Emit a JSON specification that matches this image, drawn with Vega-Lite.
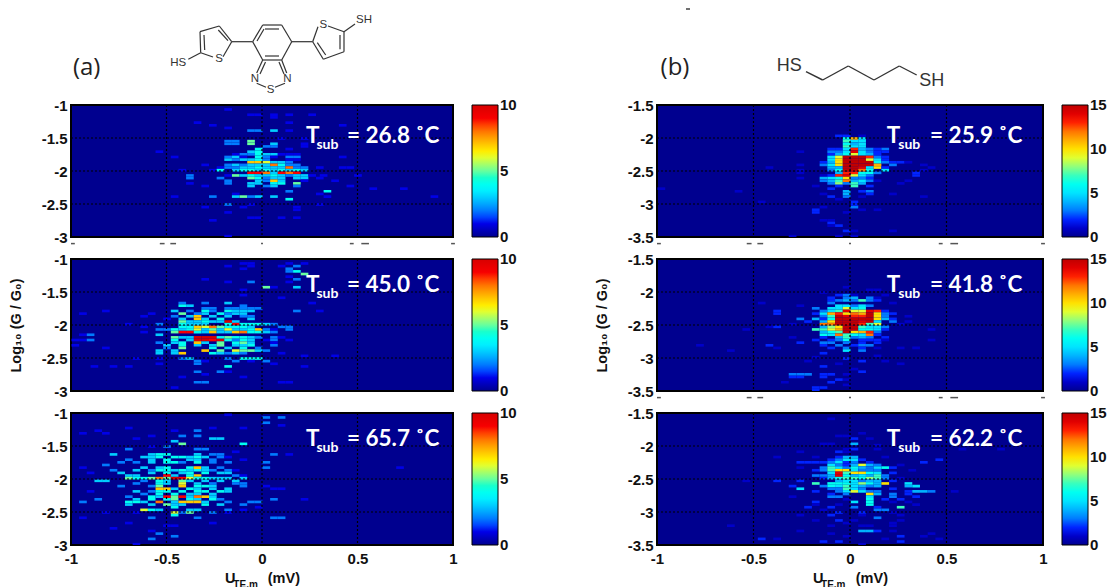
{"$schema":"https://vega.github.io/schema/vega-lite/v6.json","background":"white","padding":{"left":7,"top":0,"right":0,"bottom":0},"bounds":"flush","spacing":586,"resolve":{"scale":{"color":"independent"}},
"config":{"view":{"stroke":null},"axis":{"grid":false,"domain":false,"ticks":false,"labelFont":"Liberation Sans","labelFontWeight":"bold","labelFontSize":15,"labelColor":"#111","titleFont":"Liberation Sans","titleFontWeight":"bold","titleFontSize":14.5,"titleColor":"#111","labelPadding":4,"labelFlush":false,"labelOverlap":false,"labelBound":false},
"legend":{"offset":19,"gradientLength":132,"gradientThickness":26,"gradientStrokeColor":"#000","gradientStrokeWidth":1,"labelFont":"Liberation Sans","labelFontWeight":"bold","labelFontSize":15,"labelColor":"#111","labelOffset":4,"labelOverlap":false,"title":null,"tickCount":3}},
"datasets":{
"gx":[{"v":-0.5},{"v":0},{"v":0.5}],
"gya":[{"v":-2.5},{"v":-2},{"v":-1.5}],
"gyb":[{"v":-3},{"v":-2.5},{"v":-2}],
"fa":[{"x":-1,"x2":-0.98,"y":-3.1},{"x":-0.535,"x2":-0.51,"y":-3.1},{"x":-0.48,"x2":-0.45,"y":-3.1},{"x":-0.005,"x2":0.005,"y":-3.1},{"x":0.46,"x2":0.48,"y":-3.1},{"x":0.52,"x2":0.56,"y":-3.1},{"x":0.99,"x2":1.01,"y":-3.1}],
"fb":[{"x":-1,"x2":-0.98,"y":-3.6},{"x":-0.535,"x2":-0.51,"y":-3.6},{"x":-0.48,"x2":-0.45,"y":-3.6},{"x":-0.005,"x2":0.005,"y":-3.6},{"x":0.46,"x2":0.48,"y":-3.6},{"x":0.52,"x2":0.56,"y":-3.6},{"x":0.99,"x2":1.01,"y":-3.6}],
"a1":[{"x":-0.2,"y":-1.08,"v":1},{"x":-0.08,"y":-1.16,"v":1},{"x":-0.04,"y":-1.16,"v":1},{"x":0.04,"y":-1.16,"v":1},{"x":0.04,"y":-1.2,"v":1},{"x":0.12,"y":-1.16,"v":1},{"x":0.24,"y":-1.16,"v":1},{"x":0.12,"y":-1.28,"v":1},{"x":-0.36,"y":-1.28,"v":1},{"x":-0.28,"y":-1.32,"v":1},{"x":-0.2,"y":-1.36,"v":1},{"x":0.4,"y":-1.32,"v":1},{"x":-0.08,"y":-1.4,"v":2},{"x":-0.04,"y":-1.4,"v":2},{"x":0.04,"y":-1.4,"v":3},{"x":0.12,"y":-1.4,"v":1},{"x":0.2,"y":-1.52,"v":1},{"x":0.08,"y":-1.52,"v":1},{"x":-0.2,"y":-1.56,"v":2},{"x":-0.16,"y":-1.56,"v":2},{"x":-0.2,"y":-1.6,"v":2},{"x":-0.16,"y":-1.6,"v":2},{"x":-0.08,"y":-1.56,"v":5},{"x":-0.08,"y":-1.6,"v":5},{"x":0.04,"y":-1.6,"v":3},{"x":0.2,"y":-1.6,"v":1},{"x":0.2,"y":-1.64,"v":1},{"x":0,"y":-1.64,"v":2},{"x":0.04,"y":-1.64,"v":2},{"x":-0.04,"y":-1.68,"v":4},{"x":0.12,"y":-1.68,"v":1},{"x":-0.56,"y":-1.72,"v":1},{"x":-0.08,"y":-1.72,"v":3},{"x":-0.04,"y":-1.72,"v":4},{"x":-0.16,"y":-1.76,"v":1},{"x":-0.12,"y":-1.76,"v":2},{"x":-0.08,"y":-1.76,"v":2},{"x":-0.04,"y":-1.76,"v":4},{"x":0,"y":-1.76,"v":3},{"x":0.04,"y":-1.76,"v":3},{"x":0.08,"y":-1.76,"v":1},{"x":0.12,"y":-1.76,"v":1},{"x":0.16,"y":-1.76,"v":1},{"x":-0.48,"y":-1.8,"v":1},{"x":-0.2,"y":-1.8,"v":2},{"x":-0.16,"y":-1.8,"v":3},{"x":-0.12,"y":-1.8,"v":1},{"x":-0.04,"y":-1.8,"v":4},{"x":0,"y":-1.8,"v":2},{"x":0.04,"y":-1.8,"v":1},{"x":0.12,"y":-1.8,"v":2},{"x":0.16,"y":-1.8,"v":2},{"x":0.4,"y":-1.8,"v":1},{"x":-0.2,"y":-1.84,"v":3},{"x":-0.16,"y":-1.84,"v":2},{"x":-0.12,"y":-1.84,"v":3},{"x":-0.08,"y":-1.84,"v":3},{"x":-0.04,"y":-1.84,"v":4},{"x":0,"y":-1.84,"v":2},{"x":0.12,"y":-1.84,"v":1},{"x":0.16,"y":-1.84,"v":1},{"x":-0.08,"y":-1.88,"v":7},{"x":-0.04,"y":-1.88,"v":7},{"x":0,"y":-1.88,"v":6},{"x":0.04,"y":-1.88,"v":3},{"x":0.08,"y":-1.88,"v":3},{"x":0.12,"y":-1.88,"v":2},{"x":-0.32,"y":-1.92,"v":1},{"x":-0.2,"y":-1.92,"v":2},{"x":-0.16,"y":-1.92,"v":3},{"x":-0.12,"y":-1.92,"v":2},{"x":-0.08,"y":-1.92,"v":3},{"x":-0.04,"y":-1.92,"v":3},{"x":0,"y":-1.92,"v":3},{"x":0.04,"y":-1.92,"v":8},{"x":0.08,"y":-1.92,"v":4},{"x":0.12,"y":-1.92,"v":2},{"x":0.16,"y":-1.92,"v":2},{"x":-0.24,"y":-1.96,"v":1},{"x":-0.2,"y":-1.96,"v":2},{"x":-0.16,"y":-1.96,"v":2},{"x":-0.12,"y":-1.96,"v":3},{"x":-0.08,"y":-1.96,"v":3},{"x":-0.04,"y":-1.96,"v":4},{"x":0,"y":-1.96,"v":3},{"x":0.04,"y":-1.96,"v":3},{"x":0.08,"y":-1.96,"v":3},{"x":0.12,"y":-1.96,"v":8},{"x":0.16,"y":-1.96,"v":2},{"x":0.2,"y":-1.96,"v":2},{"x":0.28,"y":-1.96,"v":1},{"x":0.4,"y":-1.96,"v":1},{"x":0.44,"y":-1.96,"v":1},{"x":-0.44,"y":-2,"v":1},{"x":-0.28,"y":-2,"v":1},{"x":-0.24,"y":-2,"v":4},{"x":-0.16,"y":-2,"v":3},{"x":-0.12,"y":-2,"v":4},{"x":-0.08,"y":-2,"v":4},{"x":-0.04,"y":-2,"v":3},{"x":0,"y":-2,"v":4},{"x":0.04,"y":-2,"v":3},{"x":0.08,"y":-2,"v":4},{"x":0.12,"y":-2,"v":3},{"x":0.16,"y":-2,"v":4},{"x":0.2,"y":-2,"v":3},{"x":-0.08,"y":-2.04,"v":9},{"x":-0.04,"y":-2.04,"v":9},{"x":0,"y":-2.04,"v":8},{"x":0.04,"y":-2.04,"v":3},{"x":0.08,"y":-2.04,"v":9},{"x":0.12,"y":-2.04,"v":8},{"x":0.16,"y":-2.04,"v":9},{"x":-0.4,"y":-2.08,"v":2},{"x":-0.2,"y":-2.08,"v":1},{"x":-0.16,"y":-2.08,"v":5},{"x":-0.12,"y":-2.08,"v":3},{"x":-0.08,"y":-2.08,"v":4},{"x":-0.04,"y":-2.08,"v":3},{"x":0,"y":-2.08,"v":3},{"x":0.04,"y":-2.08,"v":4},{"x":0.08,"y":-2.08,"v":3},{"x":0.12,"y":-2.08,"v":2},{"x":0.16,"y":-2.08,"v":3},{"x":0.2,"y":-2.08,"v":3},{"x":0.24,"y":-2.08,"v":1},{"x":0.3,"y":-2.08,"v":1},{"x":0.48,"y":-2.08,"v":1},{"x":-0.4,"y":-2.12,"v":2},{"x":-0.24,"y":-2.12,"v":2},{"x":-0.08,"y":-2.12,"v":5},{"x":-0.04,"y":-2.12,"v":4},{"x":0,"y":-2.12,"v":2},{"x":0.04,"y":-2.12,"v":3},{"x":0.08,"y":-2.12,"v":3},{"x":0.16,"y":-2.12,"v":3},{"x":0.2,"y":-2.12,"v":3},{"x":0.28,"y":-2.12,"v":1},{"x":-0.2,"y":-2.16,"v":2},{"x":-0.04,"y":-2.16,"v":3},{"x":0,"y":-2.16,"v":2},{"x":0.04,"y":-2.16,"v":7},{"x":0.08,"y":-2.16,"v":3},{"x":0.2,"y":-2.16,"v":1},{"x":0.36,"y":-2.16,"v":1},{"x":-0.4,"y":-2.2,"v":1},{"x":-0.2,"y":-2.2,"v":2},{"x":-0.08,"y":-2.2,"v":3},{"x":-0.04,"y":-2.2,"v":3},{"x":0.04,"y":-2.2,"v":4},{"x":0.08,"y":-2.2,"v":4},{"x":0.16,"y":-2.2,"v":5},{"x":-0.32,"y":-2.24,"v":1},{"x":-0.08,"y":-2.24,"v":3},{"x":0,"y":-2.24,"v":2},{"x":0.04,"y":-2.24,"v":3},{"x":0.16,"y":-2.24,"v":2},{"x":0.44,"y":-2.24,"v":1},{"x":0.56,"y":-2.28,"v":1},{"x":0.72,"y":-2.28,"v":1},{"x":0.32,"y":-2.32,"v":4},{"x":-0.16,"y":-2.36,"v":1},{"x":0.12,"y":-2.32,"v":2},{"x":0.28,"y":-2.36,"v":1},{"x":-0.48,"y":-2.4,"v":1},{"x":-0.28,"y":-2.4,"v":2},{"x":-0.16,"y":-2.4,"v":3},{"x":-0.12,"y":-2.4,"v":5},{"x":-0.08,"y":-2.4,"v":2},{"x":-0.04,"y":-2.4,"v":3},{"x":0.04,"y":-2.4,"v":3},{"x":0.12,"y":-2.44,"v":4},{"x":0.32,"y":-2.4,"v":1},{"x":0.88,"y":-2.4,"v":1},{"x":-0.2,"y":-2.52,"v":2},{"x":-0.08,"y":-2.52,"v":1},{"x":0.28,"y":-2.52,"v":1},{"x":-0.32,"y":-2.56,"v":1},{"x":-0.12,"y":-2.56,"v":1},{"x":0.16,"y":-2.56,"v":1},{"x":-0.2,"y":-2.64,"v":1},{"x":0.16,"y":-2.6,"v":1},{"x":-0.08,"y":-2.72,"v":1},{"x":-0.04,"y":-2.72,"v":1},{"x":0.08,"y":-2.72,"v":1},{"x":0.16,"y":-2.72,"v":1},{"x":-0.28,"y":-2.76,"v":1},{"x":-0.2,"y":-3,"v":1}],
"a2":[{"x":-0.12,"y":-1.08,"v":1},{"x":-0.08,"y":-1.08,"v":1},{"x":0.12,"y":-1.08,"v":1},{"x":0.2,"y":-1.08,"v":1},{"x":-0.2,"y":-1.12,"v":1},{"x":-0.08,"y":-1.12,"v":1},{"x":0.08,"y":-1.12,"v":1},{"x":0.16,"y":-1.12,"v":2},{"x":-0.12,"y":-1.16,"v":1},{"x":0.12,"y":-1.16,"v":2},{"x":0.16,"y":-1.2,"v":4},{"x":0.12,"y":-1.2,"v":2},{"x":0.2,"y":-1.24,"v":5},{"x":0.12,"y":-1.28,"v":1},{"x":0.16,"y":-1.32,"v":2},{"x":-0.32,"y":-1.32,"v":1},{"x":-0.2,"y":-1.36,"v":1},{"x":-0.08,"y":-1.36,"v":2},{"x":0.12,"y":-1.36,"v":1},{"x":0,"y":-1.44,"v":5},{"x":0.04,"y":-1.44,"v":1},{"x":0.16,"y":-1.44,"v":3},{"x":-0.12,"y":-1.48,"v":1},{"x":-0.12,"y":-1.56,"v":1},{"x":0.08,"y":-1.6,"v":1},{"x":0.24,"y":-1.68,"v":1},{"x":-0.44,"y":-1.68,"v":2},{"x":-0.32,"y":-1.68,"v":2},{"x":-0.2,"y":-1.68,"v":3},{"x":-0.12,"y":-1.72,"v":2},{"x":-0.44,"y":-1.72,"v":4},{"x":-0.4,"y":-1.72,"v":3},{"x":-0.32,"y":-1.76,"v":2},{"x":-0.28,"y":-1.76,"v":2},{"x":-0.2,"y":-1.76,"v":2},{"x":-0.16,"y":-1.76,"v":2},{"x":-0.12,"y":-1.76,"v":2},{"x":-0.08,"y":-1.76,"v":2},{"x":-0.04,"y":-1.76,"v":2},{"x":-0.84,"y":-1.8,"v":1},{"x":-0.48,"y":-1.8,"v":3},{"x":-0.4,"y":-1.8,"v":2},{"x":-0.32,"y":-1.8,"v":4},{"x":-0.28,"y":-1.8,"v":2},{"x":-0.2,"y":-1.8,"v":4},{"x":-0.16,"y":-1.8,"v":3},{"x":-0.12,"y":-1.8,"v":3},{"x":-0.08,"y":-1.8,"v":3},{"x":0.16,"y":-1.8,"v":2},{"x":0.28,"y":-1.8,"v":1},{"x":-0.96,"y":-1.84,"v":1},{"x":-0.6,"y":-1.84,"v":1},{"x":-0.44,"y":-1.84,"v":5},{"x":-0.36,"y":-1.84,"v":2},{"x":-0.32,"y":-1.84,"v":3},{"x":-0.24,"y":-1.84,"v":4},{"x":-0.2,"y":-1.84,"v":2},{"x":-0.16,"y":-1.84,"v":3},{"x":-0.12,"y":-1.84,"v":3},{"x":-0.64,"y":-1.88,"v":1},{"x":-0.48,"y":-1.88,"v":2},{"x":-0.4,"y":-1.88,"v":3},{"x":-0.36,"y":-1.88,"v":7},{"x":-0.28,"y":-1.88,"v":3},{"x":-0.2,"y":-1.88,"v":3},{"x":-0.12,"y":-1.88,"v":2},{"x":-0.08,"y":-1.88,"v":2},{"x":-0.52,"y":-1.92,"v":1},{"x":-0.44,"y":-1.92,"v":3},{"x":-0.36,"y":-1.92,"v":7},{"x":-0.32,"y":-1.92,"v":3},{"x":-0.24,"y":-1.92,"v":4},{"x":-0.2,"y":-1.96,"v":10},{"x":-0.24,"y":-1.96,"v":3},{"x":-0.16,"y":-1.96,"v":3},{"x":-0.08,"y":-1.92,"v":3},{"x":-0.44,"y":-1.96,"v":5},{"x":-0.4,"y":-1.96,"v":3},{"x":-0.36,"y":-1.96,"v":3},{"x":-0.32,"y":-1.96,"v":4},{"x":-0.28,"y":-1.96,"v":3},{"x":-0.16,"y":-2,"v":9},{"x":-0.2,"y":-2,"v":4},{"x":-0.12,"y":-2,"v":4},{"x":-0.08,"y":-2,"v":4},{"x":-0.04,"y":-2,"v":4},{"x":0,"y":-2,"v":3},{"x":0.04,"y":-2,"v":2},{"x":-0.44,"y":-2,"v":4},{"x":-0.4,"y":-2,"v":3},{"x":-0.36,"y":-2,"v":3},{"x":-0.32,"y":-2,"v":3},{"x":-0.72,"y":-2,"v":1},{"x":-0.56,"y":-2,"v":2},{"x":-0.28,"y":-2.04,"v":8},{"x":-0.24,"y":-2.04,"v":5},{"x":-0.2,"y":-2.04,"v":4},{"x":-0.16,"y":-2.04,"v":4},{"x":-0.12,"y":-2.04,"v":4},{"x":-0.08,"y":-2.04,"v":3},{"x":-0.36,"y":-2.04,"v":7},{"x":-0.4,"y":-2.04,"v":4},{"x":-0.44,"y":-2.04,"v":4},{"x":-0.32,"y":-2.04,"v":6},{"x":-0.64,"y":-2.04,"v":1},{"x":0.08,"y":-2.04,"v":2},{"x":0.12,"y":-2.04,"v":2},{"x":-0.56,"y":-2.08,"v":2},{"x":-0.52,"y":-2.08,"v":2},{"x":-0.48,"y":-2.08,"v":4},{"x":-0.44,"y":-2.08,"v":3},{"x":-0.4,"y":-2.08,"v":4},{"x":-0.36,"y":-2.08,"v":6},{"x":-0.32,"y":-2.08,"v":3},{"x":-0.28,"y":-2.08,"v":5},{"x":-0.24,"y":-2.08,"v":3},{"x":-0.2,"y":-2.08,"v":6},{"x":-0.16,"y":-2.08,"v":3},{"x":-0.12,"y":-2.08,"v":3},{"x":-0.04,"y":-2.08,"v":7},{"x":-0.08,"y":-2.08,"v":4},{"x":0,"y":-2.08,"v":2},{"x":0.04,"y":-2.08,"v":1},{"x":0.12,"y":-2.08,"v":2},{"x":-0.44,"y":-2.12,"v":9},{"x":-0.4,"y":-2.12,"v":9},{"x":-0.36,"y":-2.12,"v":4},{"x":-0.32,"y":-2.12,"v":3},{"x":-0.28,"y":-2.12,"v":7},{"x":-0.24,"y":-2.12,"v":3},{"x":-0.2,"y":-2.12,"v":3},{"x":-0.16,"y":-2.12,"v":7},{"x":-0.12,"y":-2.12,"v":8},{"x":-0.08,"y":-2.12,"v":4},{"x":-0.04,"y":-2.12,"v":4},{"x":-0.64,"y":-2.12,"v":1},{"x":-0.48,"y":-2.12,"v":5},{"x":0,"y":-2.12,"v":3},{"x":0.04,"y":-2.12,"v":2},{"x":-0.96,"y":-2.16,"v":1},{"x":-0.92,"y":-2.16,"v":2},{"x":-0.56,"y":-2.16,"v":3},{"x":-0.36,"y":-2.2,"v":10},{"x":-0.32,"y":-2.2,"v":10},{"x":-0.28,"y":-2.2,"v":10},{"x":-0.24,"y":-2.2,"v":4},{"x":-0.2,"y":-2.2,"v":5},{"x":-0.16,"y":-2.2,"v":4},{"x":-0.12,"y":-2.2,"v":4},{"x":-0.44,"y":-2.2,"v":3},{"x":-0.48,"y":-2.2,"v":5},{"x":-0.4,"y":-2.2,"v":3},{"x":-0.08,"y":-2.2,"v":3},{"x":-0.04,"y":-2.2,"v":2},{"x":0.04,"y":-2.2,"v":2},{"x":0.08,"y":-2.2,"v":1},{"x":-1,"y":-2.24,"v":1},{"x":-0.96,"y":-2.24,"v":1},{"x":-0.92,"y":-2.24,"v":2},{"x":-0.36,"y":-2.24,"v":10},{"x":-0.32,"y":-2.24,"v":10},{"x":-0.28,"y":-2.24,"v":9},{"x":-0.24,"y":-2.24,"v":10},{"x":-0.4,"y":-2.24,"v":3},{"x":-0.48,"y":-2.24,"v":4},{"x":-0.2,"y":-2.24,"v":4},{"x":-0.16,"y":-2.24,"v":2},{"x":-0.12,"y":-2.24,"v":4},{"x":-0.08,"y":-2.24,"v":3},{"x":0,"y":-2.24,"v":1},{"x":0.04,"y":-2.24,"v":2},{"x":0.12,"y":-2.24,"v":1},{"x":-0.36,"y":-2.28,"v":7},{"x":-0.32,"y":-2.28,"v":3},{"x":-0.24,"y":-2.28,"v":5},{"x":-0.16,"y":-2.28,"v":4},{"x":-0.12,"y":-2.28,"v":5},{"x":-0.08,"y":-2.28,"v":3},{"x":-0.48,"y":-2.28,"v":3},{"x":-0.44,"y":-2.28,"v":4},{"x":-0.56,"y":-2.28,"v":2},{"x":0.04,"y":-2.28,"v":1},{"x":-1,"y":-2.32,"v":1},{"x":-0.52,"y":-2.32,"v":3},{"x":-0.44,"y":-2.32,"v":4},{"x":-0.36,"y":-2.32,"v":3},{"x":-0.28,"y":-2.32,"v":3},{"x":-0.24,"y":-2.32,"v":5},{"x":-0.16,"y":-2.32,"v":3},{"x":-0.12,"y":-2.32,"v":3},{"x":-0.08,"y":-2.32,"v":4},{"x":0.04,"y":-2.32,"v":2},{"x":-0.84,"y":-2.36,"v":1},{"x":-0.44,"y":-2.36,"v":5},{"x":-0.28,"y":-2.36,"v":4},{"x":-0.2,"y":-2.36,"v":3},{"x":-0.12,"y":-2.36,"v":4},{"x":-0.04,"y":-2.36,"v":2},{"x":-0.52,"y":-2.36,"v":2},{"x":-0.56,"y":-2.4,"v":3},{"x":-0.48,"y":-2.4,"v":3},{"x":-0.32,"y":-2.4,"v":7},{"x":-0.24,"y":-2.4,"v":5},{"x":-0.16,"y":-2.4,"v":6},{"x":-0.12,"y":-2.4,"v":5},{"x":-0.08,"y":-2.4,"v":5},{"x":-0.04,"y":-2.4,"v":3},{"x":0,"y":-2.4,"v":2},{"x":-0.44,"y":-2.44,"v":7},{"x":-0.48,"y":-2.44,"v":3},{"x":-0.56,"y":-2.44,"v":3},{"x":-0.28,"y":-2.44,"v":4},{"x":-0.24,"y":-2.44,"v":3},{"x":-0.2,"y":-2.44,"v":2},{"x":-0.16,"y":-2.44,"v":3},{"x":-0.12,"y":-2.44,"v":2},{"x":0.08,"y":-2.44,"v":1},{"x":0.2,"y":-2.48,"v":1},{"x":0.36,"y":-2.48,"v":1},{"x":-0.44,"y":-2.52,"v":2},{"x":-0.4,"y":-2.52,"v":3},{"x":-0.2,"y":-2.52,"v":2},{"x":-0.12,"y":-2.52,"v":4},{"x":-0.08,"y":-2.52,"v":4},{"x":-0.04,"y":-2.52,"v":4},{"x":-0.56,"y":-2.52,"v":1},{"x":-0.68,"y":-2.52,"v":1},{"x":-0.36,"y":-2.56,"v":2},{"x":-0.32,"y":-2.56,"v":1},{"x":-0.16,"y":-2.56,"v":2},{"x":-0.08,"y":-2.56,"v":1},{"x":0,"y":-2.56,"v":2},{"x":-0.56,"y":-2.6,"v":1},{"x":-0.36,"y":-2.6,"v":2},{"x":0.04,"y":-2.6,"v":1},{"x":-0.9,"y":-2.64,"v":1},{"x":-0.8,"y":-2.64,"v":1},{"x":-0.72,"y":-2.64,"v":1},{"x":-0.2,"y":-2.64,"v":4},{"x":0.2,"y":-2.64,"v":1},{"x":-0.24,"y":-2.72,"v":2},{"x":-0.2,"y":-2.72,"v":1},{"x":-0.36,"y":-2.72,"v":2},{"x":-0.44,"y":-2.8,"v":1},{"x":-0.32,"y":-2.76,"v":1},{"x":-0.12,"y":-2.8,"v":1},{"x":-0.36,"y":-2.88,"v":2},{"x":-0.32,"y":-2.88,"v":2},{"x":0.08,"y":-2.88,"v":1},{"x":0.12,"y":-2.88,"v":1},{"x":-0.48,"y":-2.96,"v":1}],
"a3":[{"x":-0.2,"y":-1.04,"v":1},{"x":0.0,"y":-1.08,"v":2},{"x":0.08,"y":-1.08,"v":2},{"x":0,"y":-1.16,"v":2},{"x":0.08,"y":-1.2,"v":1},{"x":-0.88,"y":-1.28,"v":1},{"x":-0.72,"y":-1.24,"v":1},{"x":-0.36,"y":-1.28,"v":2},{"x":-0.28,"y":-1.24,"v":1},{"x":-0.12,"y":-1.24,"v":1},{"x":-0.96,"y":-1.32,"v":1},{"x":-0.84,"y":-1.32,"v":1},{"x":-0.48,"y":-1.28,"v":1},{"x":-0.68,"y":-1.4,"v":1},{"x":-0.6,"y":-1.36,"v":1},{"x":-0.44,"y":-1.36,"v":2},{"x":-0.36,"y":-1.36,"v":2},{"x":-0.28,"y":-1.4,"v":3},{"x":-0.24,"y":-1.4,"v":3},{"x":-0.48,"y":-1.44,"v":3},{"x":-0.44,"y":-1.48,"v":5},{"x":-0.12,"y":-1.48,"v":4},{"x":-0.6,"y":-1.52,"v":1},{"x":-0.52,"y":-1.52,"v":2},{"x":-0.72,"y":-1.56,"v":2},{"x":-0.36,"y":-1.56,"v":2},{"x":-0.32,"y":-1.56,"v":2},{"x":-0.16,"y":-1.6,"v":1},{"x":-0.8,"y":-1.64,"v":3},{"x":-0.6,"y":-1.64,"v":3},{"x":-0.56,"y":-1.64,"v":4},{"x":-0.52,"y":-1.64,"v":4},{"x":-0.36,"y":-1.64,"v":3},{"x":-0.28,"y":-1.64,"v":2},{"x":-0.24,"y":-1.64,"v":2},{"x":0.04,"y":-1.64,"v":2},{"x":0.12,"y":-1.64,"v":1},{"x":-0.64,"y":-1.68,"v":3},{"x":-0.6,"y":-1.68,"v":3},{"x":-0.56,"y":-1.68,"v":4},{"x":-0.48,"y":-1.68,"v":4},{"x":-0.44,"y":-1.68,"v":4},{"x":-0.4,"y":-1.68,"v":3},{"x":-0.36,"y":-1.68,"v":4},{"x":-0.32,"y":-1.68,"v":3},{"x":-0.24,"y":-1.68,"v":2},{"x":-0.2,"y":-1.68,"v":1},{"x":-0.72,"y":-1.72,"v":2},{"x":-0.6,"y":-1.72,"v":3},{"x":-0.52,"y":-1.72,"v":4},{"x":-0.4,"y":-1.72,"v":3},{"x":-0.36,"y":-1.72,"v":3},{"x":-0.28,"y":-1.72,"v":2},{"x":-0.12,"y":-1.72,"v":1},{"x":-0.76,"y":-1.76,"v":2},{"x":-0.68,"y":-1.76,"v":2},{"x":-0.6,"y":-1.76,"v":3},{"x":-0.52,"y":-1.76,"v":4},{"x":-0.48,"y":-1.76,"v":4},{"x":-0.44,"y":-1.76,"v":2},{"x":-0.36,"y":-1.76,"v":4},{"x":-0.28,"y":-1.76,"v":2},{"x":-0.2,"y":-1.76,"v":2},{"x":0,"y":-1.76,"v":2},{"x":-0.96,"y":-1.84,"v":1},{"x":-0.84,"y":-1.8,"v":2},{"x":-0.64,"y":-1.84,"v":3},{"x":-0.56,"y":-1.84,"v":3},{"x":-0.52,"y":-1.84,"v":4},{"x":-0.4,"y":-1.84,"v":4},{"x":-0.36,"y":-1.84,"v":7},{"x":-0.32,"y":-1.84,"v":3},{"x":-0.24,"y":-1.84,"v":2},{"x":0,"y":-1.84,"v":2},{"x":0.7,"y":-1.84,"v":1},{"x":-0.8,"y":-1.88,"v":2},{"x":-0.68,"y":-1.88,"v":3},{"x":-0.6,"y":-1.88,"v":2},{"x":-0.56,"y":-1.88,"v":4},{"x":-0.52,"y":-1.88,"v":4},{"x":-0.48,"y":-1.88,"v":3},{"x":-0.44,"y":-1.88,"v":4},{"x":-0.4,"y":-1.88,"v":3},{"x":-0.36,"y":-1.88,"v":4},{"x":-0.32,"y":-1.88,"v":3},{"x":-0.28,"y":-1.88,"v":2},{"x":-0.2,"y":-1.88,"v":2},{"x":-0.16,"y":-1.88,"v":1},{"x":-0.92,"y":-1.92,"v":1},{"x":-0.76,"y":-1.92,"v":3},{"x":-0.6,"y":-1.92,"v":3},{"x":-0.52,"y":-1.92,"v":4},{"x":-0.44,"y":-1.92,"v":3},{"x":-0.4,"y":-1.92,"v":4},{"x":-0.32,"y":-1.92,"v":4},{"x":-0.24,"y":-1.92,"v":3},{"x":-0.2,"y":-1.92,"v":3},{"x":-0.52,"y":-1.96,"v":9},{"x":-0.48,"y":-1.96,"v":3},{"x":-0.36,"y":-1.96,"v":7},{"x":-0.4,"y":-1.96,"v":4},{"x":-0.72,"y":-1.96,"v":3},{"x":-0.68,"y":-1.96,"v":3},{"x":-0.16,"y":-1.96,"v":2},{"x":-0.12,"y":-1.96,"v":1},{"x":-0.72,"y":-2,"v":5},{"x":-0.68,"y":-2,"v":4},{"x":-0.64,"y":-2,"v":4},{"x":-0.6,"y":-2,"v":5},{"x":-0.56,"y":-2,"v":8},{"x":-0.52,"y":-2,"v":5},{"x":-0.48,"y":-2,"v":10},{"x":-0.44,"y":-2,"v":9},{"x":-0.4,"y":-2,"v":6},{"x":-0.36,"y":-2,"v":4},{"x":-0.32,"y":-2,"v":4},{"x":-0.28,"y":-2,"v":3},{"x":-0.24,"y":-2,"v":3},{"x":-0.2,"y":-2,"v":3},{"x":-0.12,"y":-2,"v":3},{"x":-0.88,"y":-2.04,"v":3},{"x":-0.84,"y":-2.04,"v":3},{"x":-0.64,"y":-2.04,"v":2},{"x":-0.56,"y":-2.04,"v":4},{"x":-0.52,"y":-2.04,"v":3},{"x":-0.44,"y":-2.04,"v":5},{"x":-0.4,"y":-2.04,"v":3},{"x":-0.32,"y":-2.04,"v":3},{"x":-0.24,"y":-2.04,"v":3},{"x":-0.16,"y":-2.04,"v":3},{"x":-0.68,"y":-2.08,"v":2},{"x":-0.56,"y":-2.08,"v":4},{"x":-0.52,"y":-2.08,"v":3},{"x":-0.44,"y":-2.08,"v":6},{"x":-0.36,"y":-2.08,"v":3},{"x":-0.28,"y":-2.08,"v":2},{"x":-0.16,"y":-2.08,"v":2},{"x":-0.12,"y":-2.08,"v":2},{"x":-0.76,"y":-2.12,"v":2},{"x":-0.6,"y":-2.12,"v":2},{"x":-0.56,"y":-2.12,"v":5},{"x":-0.44,"y":-2.12,"v":7},{"x":-0.36,"y":-2.12,"v":4},{"x":-0.32,"y":-2.12,"v":4},{"x":-0.28,"y":-2.12,"v":3},{"x":-0.12,"y":-2.12,"v":2},{"x":0,"y":-2.12,"v":1},{"x":-0.56,"y":-2.16,"v":7},{"x":-0.52,"y":-2.16,"v":7},{"x":-0.48,"y":-2.16,"v":3},{"x":-0.4,"y":-2.16,"v":4},{"x":-0.36,"y":-2.16,"v":3},{"x":-0.28,"y":-2.16,"v":3},{"x":-0.2,"y":-2.16,"v":3},{"x":0.04,"y":-2.16,"v":1},{"x":0.08,"y":-2.16,"v":1},{"x":-0.92,"y":-2.2,"v":1},{"x":-0.68,"y":-2.2,"v":3},{"x":-0.6,"y":-2.2,"v":2},{"x":-0.56,"y":-2.2,"v":4},{"x":-0.52,"y":-2.2,"v":4},{"x":-0.44,"y":-2.2,"v":4},{"x":-0.36,"y":-2.2,"v":4},{"x":-0.32,"y":-2.2,"v":4},{"x":-0.24,"y":-2.2,"v":4},{"x":-0.2,"y":-2.2,"v":3},{"x":-0.64,"y":-2.24,"v":2},{"x":-0.56,"y":-2.24,"v":4},{"x":-0.48,"y":-2.24,"v":4},{"x":-0.4,"y":-2.24,"v":3},{"x":-0.36,"y":-2.24,"v":3},{"x":-0.28,"y":-2.24,"v":3},{"x":-0.52,"y":-2.28,"v":9},{"x":-0.48,"y":-2.28,"v":5},{"x":-0.44,"y":-2.28,"v":9},{"x":-0.36,"y":-2.28,"v":8},{"x":-0.32,"y":-2.28,"v":7},{"x":-0.72,"y":-2.28,"v":2},{"x":-0.6,"y":-2.28,"v":4},{"x":-0.56,"y":-2.28,"v":3},{"x":-0.4,"y":-2.28,"v":3},{"x":-0.28,"y":-2.28,"v":3},{"x":-0.88,"y":-2.32,"v":2},{"x":-0.68,"y":-2.32,"v":3},{"x":-0.6,"y":-2.32,"v":4},{"x":-0.52,"y":-2.32,"v":4},{"x":-0.48,"y":-2.32,"v":5},{"x":-0.4,"y":-2.32,"v":4},{"x":-0.36,"y":-2.32,"v":3},{"x":-0.28,"y":-2.32,"v":4},{"x":-0.24,"y":-2.32,"v":2},{"x":0.04,"y":-2.32,"v":2},{"x":0.2,"y":-2.32,"v":1},{"x":-0.56,"y":-2.36,"v":8},{"x":-0.48,"y":-2.36,"v":3},{"x":-0.44,"y":-2.36,"v":7},{"x":-0.4,"y":-2.36,"v":7},{"x":-0.36,"y":-2.36,"v":7},{"x":-0.72,"y":-2.36,"v":4},{"x":-0.68,"y":-2.36,"v":4},{"x":-0.64,"y":-2.36,"v":3},{"x":-0.32,"y":-2.36,"v":3},{"x":-0.96,"y":-2.36,"v":2},{"x":-0.2,"y":-2.36,"v":2},{"x":-0.08,"y":-2.36,"v":2},{"x":-0.04,"y":-2.36,"v":2},{"x":-0.72,"y":-2.4,"v":3},{"x":-0.6,"y":-2.4,"v":3},{"x":-0.52,"y":-2.4,"v":5},{"x":-0.48,"y":-2.4,"v":3},{"x":-0.44,"y":-2.4,"v":3},{"x":-0.32,"y":-2.4,"v":4},{"x":-0.24,"y":-2.4,"v":3},{"x":-0.12,"y":-2.4,"v":2},{"x":-0.64,"y":-2.48,"v":6},{"x":-0.6,"y":-2.48,"v":4},{"x":-0.56,"y":-2.48,"v":3},{"x":-0.48,"y":-2.44,"v":4},{"x":-0.4,"y":-2.48,"v":3},{"x":-0.36,"y":-2.48,"v":3},{"x":-0.2,"y":-2.48,"v":2},{"x":-0.12,"y":-2.48,"v":1},{"x":-0.04,"y":-2.44,"v":1},{"x":-0.48,"y":-2.52,"v":6},{"x":-0.44,"y":-2.52,"v":2},{"x":-0.4,"y":-2.52,"v":5},{"x":-0.84,"y":-2.52,"v":1},{"x":-0.68,"y":-2.52,"v":1},{"x":-0.28,"y":-2.52,"v":2},{"x":-0.2,"y":-2.52,"v":1},{"x":-0.48,"y":-2.56,"v":4},{"x":-0.96,"y":-2.6,"v":1},{"x":0.04,"y":-2.6,"v":2},{"x":0.08,"y":-2.6,"v":2},{"x":-0.6,"y":-2.6,"v":2},{"x":-0.36,"y":-2.6,"v":2},{"x":-0.72,"y":-2.68,"v":1},{"x":-0.28,"y":-2.68,"v":1},{"x":-0.52,"y":-2.72,"v":1},{"x":-0.48,"y":-2.72,"v":1},{"x":-0.8,"y":-2.76,"v":1},{"x":-0.6,"y":-2.8,"v":1},{"x":-0.56,"y":-2.84,"v":2},{"x":-0.48,"y":-2.88,"v":2},{"x":-0.6,"y":-2.92,"v":2},{"x":-0.68,"y":-3,"v":1}],
"b1":[{"x":-0.08,"y":-1.98,"v":2},{"x":-0.04,"y":-1.98,"v":2},{"x":0.04,"y":-1.98,"v":1},{"x":-0.04,"y":-2.02,"v":6},{"x":0,"y":-2.02,"v":11},{"x":0.04,"y":-2.02,"v":5},{"x":-0.04,"y":-2.06,"v":7},{"x":0,"y":-2.06,"v":5},{"x":0.04,"y":-2.06,"v":5},{"x":-0.04,"y":-2.1,"v":6},{"x":0,"y":-2.1,"v":4},{"x":0.04,"y":-2.1,"v":5},{"x":-0.04,"y":-2.14,"v":7},{"x":0,"y":-2.14,"v":5},{"x":0.04,"y":-2.14,"v":5},{"x":-0.12,"y":-2.18,"v":2},{"x":-0.08,"y":-2.18,"v":2},{"x":-0.04,"y":-2.18,"v":5},{"x":0,"y":-2.18,"v":13},{"x":0.04,"y":-2.18,"v":4},{"x":0.08,"y":-2.18,"v":3},{"x":0.12,"y":-2.18,"v":2},{"x":0.16,"y":-2.18,"v":3},{"x":-0.28,"y":-2.22,"v":1},{"x":-0.12,"y":-2.22,"v":3},{"x":-0.08,"y":-2.22,"v":3},{"x":-0.04,"y":-2.22,"v":5},{"x":0,"y":-2.22,"v":14},{"x":0.04,"y":-2.22,"v":5},{"x":0.08,"y":-2.22,"v":3},{"x":0.12,"y":-2.22,"v":2},{"x":0.16,"y":-2.22,"v":2},{"x":-0.12,"y":-2.26,"v":2},{"x":-0.08,"y":-2.26,"v":4},{"x":-0.04,"y":-2.26,"v":6},{"x":0,"y":-2.26,"v":9},{"x":0.04,"y":-2.26,"v":5},{"x":0.08,"y":-2.26,"v":4},{"x":0.12,"y":-2.26,"v":2},{"x":-0.12,"y":-2.3,"v":5},{"x":-0.08,"y":-2.3,"v":9},{"x":-0.04,"y":-2.3,"v":15},{"x":0,"y":-2.3,"v":15},{"x":0.04,"y":-2.3,"v":15},{"x":0.08,"y":-2.3,"v":13},{"x":0.12,"y":-2.3,"v":3},{"x":0.16,"y":-2.3,"v":2},{"x":-0.12,"y":-2.34,"v":5},{"x":-0.08,"y":-2.34,"v":10},{"x":-0.04,"y":-2.34,"v":15},{"x":0,"y":-2.34,"v":16},{"x":0.04,"y":-2.34,"v":15},{"x":0.08,"y":-2.34,"v":9},{"x":0.12,"y":-2.34,"v":5},{"x":0.16,"y":-2.34,"v":2},{"x":-0.16,"y":-2.38,"v":2},{"x":-0.12,"y":-2.38,"v":4},{"x":-0.08,"y":-2.38,"v":10},{"x":-0.04,"y":-2.38,"v":16},{"x":0,"y":-2.38,"v":15},{"x":0.04,"y":-2.38,"v":16},{"x":0.08,"y":-2.38,"v":15},{"x":0.12,"y":-2.38,"v":6},{"x":0.16,"y":-2.38,"v":3},{"x":0.2,"y":-2.38,"v":2},{"x":0.24,"y":-2.38,"v":2},{"x":0.28,"y":-2.38,"v":1},{"x":-0.28,"y":-2.42,"v":1},{"x":-0.16,"y":-2.42,"v":3},{"x":-0.12,"y":-2.42,"v":5},{"x":-0.08,"y":-2.42,"v":10},{"x":-0.04,"y":-2.42,"v":15},{"x":0,"y":-2.42,"v":16},{"x":0.04,"y":-2.42,"v":15},{"x":0.08,"y":-2.42,"v":15},{"x":0.12,"y":-2.42,"v":11},{"x":0.2,"y":-2.42,"v":3},{"x":0.36,"y":-2.42,"v":1},{"x":-0.44,"y":-2.46,"v":1},{"x":-0.12,"y":-2.46,"v":4},{"x":-0.08,"y":-2.46,"v":4},{"x":-0.04,"y":-2.46,"v":15},{"x":0,"y":-2.46,"v":15},{"x":0.04,"y":-2.46,"v":14},{"x":0.08,"y":-2.46,"v":5},{"x":0.12,"y":-2.46,"v":10},{"x":0.16,"y":-2.46,"v":2},{"x":0.16,"y":-2.5,"v":5},{"x":-0.28,"y":-2.5,"v":1},{"x":0.36,"y":-2.5,"v":1},{"x":0.4,"y":-2.46,"v":1},{"x":-0.08,"y":-2.54,"v":4},{"x":-0.04,"y":-2.54,"v":13},{"x":0,"y":-2.54,"v":13},{"x":0.04,"y":-2.54,"v":6},{"x":0.08,"y":-2.54,"v":6},{"x":0.12,"y":-2.54,"v":3},{"x":-0.12,"y":-2.5,"v":3},{"x":-0.08,"y":-2.5,"v":6},{"x":-0.04,"y":-2.5,"v":15},{"x":0,"y":-2.5,"v":15},{"x":0.04,"y":-2.5,"v":12},{"x":0.08,"y":-2.5,"v":6},{"x":-0.28,"y":-2.54,"v":1},{"x":0.32,"y":-2.54,"v":2},{"x":-0.16,"y":-2.58,"v":1},{"x":-0.12,"y":-2.58,"v":2},{"x":-0.08,"y":-2.58,"v":13},{"x":-0.04,"y":-2.58,"v":14},{"x":0,"y":-2.58,"v":9},{"x":0.04,"y":-2.58,"v":5},{"x":0.08,"y":-2.58,"v":3},{"x":0.32,"y":-2.58,"v":2},{"x":-0.16,"y":-2.62,"v":4},{"x":-0.12,"y":-2.62,"v":5},{"x":-0.08,"y":-2.62,"v":6},{"x":-0.04,"y":-2.62,"v":10},{"x":0,"y":-2.62,"v":3},{"x":0.04,"y":-2.62,"v":3},{"x":0.08,"y":-2.62,"v":2},{"x":-0.28,"y":-2.62,"v":1},{"x":-0.16,"y":-2.66,"v":3},{"x":-0.12,"y":-2.66,"v":4},{"x":-0.08,"y":-2.66,"v":7},{"x":-0.04,"y":-2.66,"v":12},{"x":0,"y":-2.66,"v":4},{"x":0.04,"y":-2.66,"v":5},{"x":0.08,"y":-2.66,"v":3},{"x":0.12,"y":-2.66,"v":1},{"x":0.28,"y":-2.66,"v":1},{"x":-0.12,"y":-2.7,"v":3},{"x":-0.08,"y":-2.7,"v":8},{"x":-0.04,"y":-2.7,"v":3},{"x":0,"y":-2.7,"v":7},{"x":0.04,"y":-2.7,"v":4},{"x":0.24,"y":-2.7,"v":1},{"x":-1,"y":-2.78,"v":1},{"x":-0.6,"y":-2.82,"v":1},{"x":-0.2,"y":-2.74,"v":1},{"x":-0.08,"y":-2.74,"v":2},{"x":0,"y":-2.74,"v":7},{"x":0.08,"y":-2.74,"v":2},{"x":-0.12,"y":-2.78,"v":2},{"x":-0.04,"y":-2.82,"v":4},{"x":0.04,"y":-2.82,"v":2},{"x":0.08,"y":-2.82,"v":3},{"x":-0.16,"y":-2.86,"v":1},{"x":-0.04,"y":-2.86,"v":4},{"x":0.08,"y":-2.86,"v":2},{"x":0.2,"y":-2.86,"v":1},{"x":-0.12,"y":-2.9,"v":2},{"x":-0.04,"y":-2.9,"v":3},{"x":0.04,"y":-2.9,"v":1},{"x":0.36,"y":-2.9,"v":1},{"x":-0.08,"y":-2.94,"v":1},{"x":0,"y":-2.98,"v":2},{"x":-0.48,"y":-2.98,"v":1},{"x":-0.16,"y":-3.06,"v":1},{"x":0,"y":-3.06,"v":3},{"x":0,"y":-3.02,"v":2},{"x":-0.2,"y":-3.1,"v":2},{"x":0.04,"y":-3.1,"v":1},{"x":0.12,"y":-3.1,"v":1},{"x":-0.2,"y":-3.14,"v":2},{"x":-0.04,"y":-3.14,"v":1},{"x":-0.16,"y":-3.26,"v":1},{"x":-0.12,"y":-3.26,"v":1},{"x":-0.12,"y":-3.3,"v":2},{"x":-0.08,"y":-3.34,"v":2},{"x":-0.12,"y":-3.34,"v":1},{"x":0.2,"y":-3.42,"v":1},{"x":-0.04,"y":-3.42,"v":2},{"x":0,"y":-3.42,"v":1},{"x":-0.32,"y":-3.5,"v":1},{"x":-0.08,"y":-3.5,"v":1},{"x":0,"y":-3.5,"v":1}],
"b2":[{"x":-0.04,"y":-1.94,"v":1},{"x":0.08,"y":-1.98,"v":1},{"x":0.12,"y":-1.98,"v":1},{"x":-0.16,"y":-2.02,"v":1},{"x":-0.08,"y":-2.06,"v":2},{"x":-0.04,"y":-2.06,"v":3},{"x":0,"y":-2.06,"v":1},{"x":0.16,"y":-2.06,"v":1},{"x":-0.12,"y":-2.1,"v":2},{"x":-0.04,"y":-2.1,"v":3},{"x":0,"y":-2.1,"v":4},{"x":0.08,"y":-2.1,"v":3},{"x":0.12,"y":-2.1,"v":1},{"x":-0.48,"y":-2.18,"v":1},{"x":-0.12,"y":-2.14,"v":2},{"x":-0.08,"y":-2.14,"v":3},{"x":-0.04,"y":-2.14,"v":4},{"x":0,"y":-2.14,"v":3},{"x":0.04,"y":-2.14,"v":7},{"x":0.08,"y":-2.14,"v":3},{"x":0.12,"y":-2.14,"v":2},{"x":0.2,"y":-2.18,"v":1},{"x":-0.28,"y":-2.22,"v":1},{"x":-0.12,"y":-2.18,"v":3},{"x":-0.08,"y":-2.22,"v":5},{"x":-0.04,"y":-2.22,"v":5},{"x":0,"y":-2.22,"v":3},{"x":0.04,"y":-2.22,"v":5},{"x":0.08,"y":-2.22,"v":3},{"x":-0.2,"y":-2.26,"v":3},{"x":-0.12,"y":-2.26,"v":5},{"x":-0.08,"y":-2.26,"v":5},{"x":-0.04,"y":-2.26,"v":9},{"x":0,"y":-2.26,"v":5},{"x":0.04,"y":-2.26,"v":6},{"x":0.08,"y":-2.3,"v":14},{"x":0.12,"y":-2.3,"v":13},{"x":0.16,"y":-2.3,"v":2},{"x":-0.4,"y":-2.3,"v":2},{"x":-0.16,"y":-2.3,"v":3},{"x":-0.12,"y":-2.3,"v":5},{"x":-0.08,"y":-2.3,"v":7},{"x":-0.04,"y":-2.3,"v":14},{"x":0,"y":-2.3,"v":9},{"x":0.04,"y":-2.3,"v":9},{"x":-0.4,"y":-2.34,"v":2},{"x":-0.2,"y":-2.34,"v":2},{"x":-0.16,"y":-2.34,"v":5},{"x":-0.12,"y":-2.34,"v":11},{"x":-0.08,"y":-2.34,"v":13},{"x":-0.04,"y":-2.34,"v":10},{"x":0,"y":-2.34,"v":12},{"x":0.04,"y":-2.34,"v":11},{"x":0.08,"y":-2.34,"v":15},{"x":0.12,"y":-2.34,"v":10},{"x":0.16,"y":-2.34,"v":3},{"x":0.2,"y":-2.34,"v":2},{"x":-0.16,"y":-2.38,"v":3},{"x":-0.12,"y":-2.38,"v":7},{"x":-0.08,"y":-2.38,"v":15},{"x":-0.04,"y":-2.38,"v":14},{"x":0,"y":-2.38,"v":13},{"x":0.04,"y":-2.38,"v":13},{"x":0.08,"y":-2.38,"v":15},{"x":0.12,"y":-2.38,"v":10},{"x":0.16,"y":-2.38,"v":3},{"x":0.28,"y":-2.38,"v":1},{"x":-0.28,"y":-2.42,"v":3},{"x":-0.2,"y":-2.42,"v":4},{"x":-0.16,"y":-2.42,"v":2},{"x":-0.12,"y":-2.42,"v":6},{"x":-0.08,"y":-2.42,"v":16},{"x":-0.04,"y":-2.42,"v":16},{"x":0,"y":-2.42,"v":15},{"x":0.04,"y":-2.42,"v":15},{"x":0.08,"y":-2.42,"v":15},{"x":0.12,"y":-2.42,"v":10},{"x":0.16,"y":-2.42,"v":4},{"x":0.2,"y":-2.42,"v":2},{"x":-0.24,"y":-2.46,"v":2},{"x":-0.16,"y":-2.46,"v":4},{"x":-0.12,"y":-2.46,"v":10},{"x":-0.08,"y":-2.46,"v":15},{"x":-0.04,"y":-2.46,"v":15},{"x":0,"y":-2.46,"v":15},{"x":0.04,"y":-2.46,"v":14},{"x":0.08,"y":-2.46,"v":15},{"x":0.12,"y":-2.46,"v":5},{"x":0.2,"y":-2.46,"v":3},{"x":0.28,"y":-2.46,"v":1},{"x":-0.16,"y":-2.5,"v":12},{"x":-0.12,"y":-2.5,"v":12},{"x":-0.08,"y":-2.5,"v":15},{"x":-0.04,"y":-2.5,"v":16},{"x":0,"y":-2.5,"v":15},{"x":0.04,"y":-2.5,"v":13},{"x":0.08,"y":-2.5,"v":7},{"x":0.12,"y":-2.5,"v":9},{"x":-0.32,"y":-2.5,"v":1},{"x":0.24,"y":-2.5,"v":1},{"x":-0.44,"y":-2.54,"v":1},{"x":-0.4,"y":-2.54,"v":2},{"x":-0.2,"y":-2.58,"v":7},{"x":-0.16,"y":-2.58,"v":7},{"x":-0.12,"y":-2.58,"v":9},{"x":-0.08,"y":-2.58,"v":11},{"x":-0.04,"y":-2.58,"v":15},{"x":0,"y":-2.58,"v":15},{"x":0.04,"y":-2.58,"v":6},{"x":0.08,"y":-2.58,"v":6},{"x":0.12,"y":-2.58,"v":5},{"x":-0.16,"y":-2.54,"v":4},{"x":-0.12,"y":-2.54,"v":8},{"x":-0.08,"y":-2.54,"v":10},{"x":-0.04,"y":-2.54,"v":16},{"x":0,"y":-2.54,"v":15},{"x":0.04,"y":-2.54,"v":7},{"x":0.08,"y":-2.54,"v":5},{"x":0.12,"y":-2.54,"v":5},{"x":0.16,"y":-2.58,"v":2},{"x":0.16,"y":-2.54,"v":3},{"x":-0.56,"y":-2.58,"v":1},{"x":0.4,"y":-2.58,"v":1},{"x":-0.16,"y":-2.62,"v":4},{"x":-0.12,"y":-2.62,"v":6},{"x":-0.08,"y":-2.62,"v":7},{"x":-0.04,"y":-2.62,"v":15},{"x":0,"y":-2.62,"v":10},{"x":0.04,"y":-2.62,"v":11},{"x":0.08,"y":-2.62,"v":13},{"x":0.12,"y":-2.62,"v":3},{"x":-0.16,"y":-2.66,"v":6},{"x":-0.12,"y":-2.66,"v":5},{"x":-0.08,"y":-2.66,"v":12},{"x":-0.04,"y":-2.66,"v":7},{"x":0,"y":-2.66,"v":6},{"x":0.04,"y":-2.66,"v":5},{"x":0.08,"y":-2.66,"v":12},{"x":0.12,"y":-2.66,"v":2},{"x":-0.32,"y":-2.7,"v":1},{"x":-0.16,"y":-2.7,"v":2},{"x":-0.08,"y":-2.7,"v":4},{"x":-0.04,"y":-2.7,"v":7},{"x":0,"y":-2.7,"v":3},{"x":0.04,"y":-2.7,"v":4},{"x":0.08,"y":-2.7,"v":3},{"x":0.16,"y":-2.7,"v":2},{"x":-0.2,"y":-2.74,"v":2},{"x":-0.12,"y":-2.74,"v":2},{"x":-0.08,"y":-2.74,"v":3},{"x":-0.04,"y":-2.74,"v":6},{"x":0.04,"y":-2.74,"v":2},{"x":0.08,"y":-2.74,"v":2},{"x":0.12,"y":-2.74,"v":2},{"x":0.16,"y":-2.74,"v":1},{"x":0.4,"y":-2.74,"v":1},{"x":-0.28,"y":-2.78,"v":2},{"x":-0.16,"y":-2.78,"v":3},{"x":-0.12,"y":-2.78,"v":3},{"x":-0.04,"y":-2.78,"v":3},{"x":0.04,"y":-2.78,"v":2},{"x":0.12,"y":-2.78,"v":2},{"x":-0.8,"y":-2.82,"v":1},{"x":-0.44,"y":-2.82,"v":2},{"x":-0.16,"y":-2.82,"v":2},{"x":-0.08,"y":-2.82,"v":3},{"x":0,"y":-2.82,"v":2},{"x":0.04,"y":-2.82,"v":3},{"x":0.08,"y":-2.82,"v":3},{"x":-0.4,"y":-2.86,"v":1},{"x":-0.12,"y":-2.86,"v":2},{"x":-0.04,"y":-2.86,"v":3},{"x":0.04,"y":-2.86,"v":2},{"x":0.12,"y":-2.86,"v":1},{"x":0.24,"y":-2.86,"v":1},{"x":0.32,"y":-2.86,"v":1},{"x":-0.64,"y":-2.9,"v":1},{"x":-0.04,"y":-2.9,"v":5},{"x":0.04,"y":-2.9,"v":3},{"x":-0.16,"y":-2.94,"v":2},{"x":-0.2,"y":-3,"v":1},{"x":0.12,"y":-2.98,"v":1},{"x":-0.04,"y":-3.02,"v":2},{"x":0.04,"y":-3.06,"v":2},{"x":0.16,"y":-3.06,"v":1},{"x":-0.24,"y":-3.06,"v":1},{"x":0.24,"y":-3.1,"v":1},{"x":-0.16,"y":-3.14,"v":2},{"x":-0.08,"y":-3.1,"v":1},{"x":0,"y":-3.18,"v":1},{"x":0.04,"y":-3.22,"v":2},{"x":-0.32,"y":-3.26,"v":3},{"x":-0.28,"y":-3.26,"v":3},{"x":-0.24,"y":-3.26,"v":3},{"x":-0.16,"y":-3.26,"v":2},{"x":-0.12,"y":-3.26,"v":2},{"x":-0.04,"y":-3.26,"v":1},{"x":-0.32,"y":-3.3,"v":2},{"x":-0.28,"y":-3.3,"v":2},{"x":-0.16,"y":-3.3,"v":2},{"x":-0.08,"y":-3.34,"v":2},{"x":-0.04,"y":-3.34,"v":1},{"x":-0.12,"y":-3.38,"v":2},{"x":-0.36,"y":-3.38,"v":1},{"x":-0.2,"y":-3.46,"v":2},{"x":-0.16,"y":-3.46,"v":2},{"x":-0.04,"y":-3.42,"v":1},{"x":-0.2,"y":-3.5,"v":2}],
"b3":[{"x":-0.12,"y":-1.6,"v":1},{"x":-0.08,"y":-1.86,"v":1},{"x":-0.04,"y":-1.86,"v":1},{"x":0.04,"y":-1.82,"v":1},{"x":0,"y":-1.9,"v":2},{"x":0.08,"y":-1.9,"v":1},{"x":0,"y":-1.98,"v":4},{"x":-0.16,"y":-1.98,"v":1},{"x":-0.12,"y":-1.98,"v":1},{"x":0.12,"y":-2,"v":1},{"x":0.32,"y":-2.06,"v":1},{"x":0.56,"y":-2.06,"v":1},{"x":0.76,"y":-2.06,"v":1},{"x":-0.04,"y":-2.06,"v":1},{"x":0,"y":-2.06,"v":2},{"x":0.12,"y":-2.06,"v":1},{"x":-0.28,"y":-2.1,"v":1},{"x":-0.08,"y":-2.1,"v":2},{"x":-0.04,"y":-2.1,"v":1},{"x":-0.4,"y":-2.18,"v":1},{"x":-0.2,"y":-2.18,"v":1},{"x":-0.08,"y":-2.18,"v":2},{"x":-0.04,"y":-2.18,"v":4},{"x":0,"y":-2.18,"v":4},{"x":0.16,"y":-2.18,"v":1},{"x":-0.12,"y":-2.22,"v":2},{"x":-0.08,"y":-2.22,"v":3},{"x":-0.04,"y":-2.22,"v":5},{"x":0,"y":-2.22,"v":5},{"x":0.04,"y":-2.22,"v":2},{"x":0.44,"y":-2.22,"v":2},{"x":-0.28,"y":-2.26,"v":2},{"x":-0.24,"y":-2.26,"v":2},{"x":-0.2,"y":-2.26,"v":2},{"x":-0.16,"y":-2.26,"v":2},{"x":-0.12,"y":-2.26,"v":3},{"x":-0.08,"y":-2.26,"v":5},{"x":-0.04,"y":-2.26,"v":2},{"x":0,"y":-2.26,"v":3},{"x":0.08,"y":-2.26,"v":2},{"x":0.36,"y":-2.26,"v":2},{"x":-0.12,"y":-2.3,"v":5},{"x":-0.08,"y":-2.3,"v":3},{"x":-0.04,"y":-2.3,"v":2},{"x":0,"y":-2.3,"v":4},{"x":0.04,"y":-2.3,"v":9},{"x":0.08,"y":-2.3,"v":4},{"x":0.12,"y":-2.3,"v":3},{"x":0.24,"y":-2.3,"v":1},{"x":-0.28,"y":-2.34,"v":1},{"x":-0.16,"y":-2.34,"v":3},{"x":-0.12,"y":-2.34,"v":7},{"x":-0.08,"y":-2.34,"v":5},{"x":-0.04,"y":-2.34,"v":3},{"x":0,"y":-2.34,"v":6},{"x":0.04,"y":-2.34,"v":4},{"x":0.08,"y":-2.34,"v":3},{"x":0.12,"y":-2.34,"v":5},{"x":0.16,"y":-2.34,"v":6},{"x":0.2,"y":-2.34,"v":2},{"x":-0.2,"y":-2.38,"v":2},{"x":-0.16,"y":-2.38,"v":3},{"x":-0.12,"y":-2.38,"v":7},{"x":-0.08,"y":-2.38,"v":10},{"x":-0.04,"y":-2.38,"v":10},{"x":0,"y":-2.38,"v":5},{"x":0.04,"y":-2.38,"v":3},{"x":0.08,"y":-2.38,"v":3},{"x":0.12,"y":-2.38,"v":3},{"x":0.3,"y":-2.38,"v":1},{"x":-0.12,"y":-2.42,"v":5},{"x":-0.08,"y":-2.42,"v":14},{"x":-0.04,"y":-2.42,"v":7},{"x":0,"y":-2.42,"v":10},{"x":0.04,"y":-2.42,"v":10},{"x":0.08,"y":-2.42,"v":6},{"x":0.12,"y":-2.42,"v":5},{"x":0.2,"y":-2.42,"v":2},{"x":-0.2,"y":-2.46,"v":3},{"x":-0.16,"y":-2.46,"v":3},{"x":-0.12,"y":-2.46,"v":4},{"x":-0.08,"y":-2.46,"v":14},{"x":-0.04,"y":-2.46,"v":6},{"x":0,"y":-2.46,"v":4},{"x":0.04,"y":-2.46,"v":5},{"x":0.08,"y":-2.46,"v":4},{"x":0.12,"y":-2.46,"v":7},{"x":0.16,"y":-2.46,"v":3},{"x":-0.16,"y":-2.5,"v":2},{"x":-0.12,"y":-2.5,"v":4},{"x":-0.08,"y":-2.5,"v":6},{"x":-0.04,"y":-2.5,"v":7},{"x":0,"y":-2.5,"v":7},{"x":0.04,"y":-2.5,"v":6},{"x":0.08,"y":-2.5,"v":8},{"x":0.12,"y":-2.5,"v":7},{"x":0.16,"y":-2.5,"v":3},{"x":0.24,"y":-2.5,"v":1},{"x":-0.56,"y":-2.54,"v":1},{"x":-0.4,"y":-2.54,"v":2},{"x":-0.28,"y":-2.54,"v":2},{"x":-0.08,"y":-2.54,"v":4},{"x":-0.04,"y":-2.54,"v":5},{"x":0,"y":-2.54,"v":5},{"x":0.04,"y":-2.54,"v":3},{"x":0.08,"y":-2.54,"v":4},{"x":0.12,"y":-2.54,"v":4},{"x":0.2,"y":-2.54,"v":2},{"x":-0.2,"y":-2.58,"v":7},{"x":-0.12,"y":-2.58,"v":6},{"x":-0.08,"y":-2.58,"v":6},{"x":-0.04,"y":-2.58,"v":6},{"x":0,"y":-2.58,"v":5},{"x":0.04,"y":-2.58,"v":8},{"x":0.08,"y":-2.58,"v":6},{"x":0.12,"y":-2.58,"v":4},{"x":0.16,"y":-2.58,"v":10},{"x":0.28,"y":-2.58,"v":5},{"x":-0.32,"y":-2.62,"v":2},{"x":-0.16,"y":-2.62,"v":3},{"x":-0.12,"y":-2.62,"v":6},{"x":-0.08,"y":-2.62,"v":5},{"x":-0.04,"y":-2.62,"v":7},{"x":0,"y":-2.62,"v":5},{"x":0.04,"y":-2.62,"v":4},{"x":0.08,"y":-2.62,"v":3},{"x":0.12,"y":-2.62,"v":4},{"x":0.28,"y":-2.62,"v":4},{"x":0.32,"y":-2.62,"v":5},{"x":-0.28,"y":-2.66,"v":5},{"x":-0.12,"y":-2.66,"v":3},{"x":-0.08,"y":-2.66,"v":3},{"x":-0.04,"y":-2.66,"v":7},{"x":0,"y":-2.66,"v":5},{"x":0.04,"y":-2.66,"v":3},{"x":0.2,"y":-2.66,"v":2},{"x":-0.2,"y":-2.7,"v":2},{"x":-0.08,"y":-2.7,"v":3},{"x":-0.04,"y":-2.7,"v":5},{"x":0,"y":-2.7,"v":9},{"x":0.04,"y":-2.7,"v":5},{"x":0.08,"y":-2.7,"v":3},{"x":0.12,"y":-2.7,"v":3},{"x":0.28,"y":-2.7,"v":2},{"x":0.32,"y":-2.7,"v":4},{"x":0.36,"y":-2.7,"v":4},{"x":0.4,"y":-2.7,"v":3},{"x":0.52,"y":-2.7,"v":1},{"x":-0.12,"y":-2.74,"v":2},{"x":-0.04,"y":-2.74,"v":3},{"x":0.08,"y":-2.74,"v":10},{"x":0.12,"y":-2.74,"v":4},{"x":0.2,"y":-2.74,"v":3},{"x":0.28,"y":-2.74,"v":2},{"x":-0.32,"y":-2.78,"v":1},{"x":-0.12,"y":-2.78,"v":3},{"x":-0.08,"y":-2.78,"v":3},{"x":0.08,"y":-2.78,"v":5},{"x":0.2,"y":-2.78,"v":3},{"x":0.32,"y":-2.78,"v":2},{"x":-0.04,"y":-2.82,"v":1},{"x":0.08,"y":-2.82,"v":6},{"x":0.16,"y":-2.82,"v":2},{"x":0.24,"y":-2.82,"v":2},{"x":-0.2,"y":-2.86,"v":2},{"x":0,"y":-2.86,"v":5},{"x":0.08,"y":-2.86,"v":6},{"x":0.2,"y":-2.86,"v":1},{"x":0.28,"y":-2.86,"v":1},{"x":-0.2,"y":-2.9,"v":1},{"x":-0.08,"y":-2.9,"v":1},{"x":0.08,"y":-2.9,"v":6},{"x":0.32,"y":-2.9,"v":1},{"x":-0.24,"y":-2.94,"v":2},{"x":-0.12,"y":-2.94,"v":2},{"x":0,"y":-2.94,"v":3},{"x":0.12,"y":-2.94,"v":2},{"x":0.24,"y":-2.94,"v":7},{"x":-0.16,"y":-2.98,"v":1},{"x":0.12,"y":-2.98,"v":3},{"x":0.16,"y":-2.98,"v":3},{"x":-0.08,"y":-3.02,"v":2},{"x":0.04,"y":-3.02,"v":2},{"x":0.2,"y":-3.02,"v":1},{"x":-0.28,"y":-3.06,"v":1},{"x":-0.12,"y":-3.06,"v":2},{"x":0.04,"y":-3.06,"v":1},{"x":0.24,"y":-3.06,"v":1},{"x":0.12,"y":-3.1,"v":3},{"x":-0.2,"y":-3.14,"v":1},{"x":-0.08,"y":-3.14,"v":2},{"x":0,"y":-3.14,"v":1},{"x":0.24,"y":-3.14,"v":1},{"x":-0.04,"y":-3.18,"v":1},{"x":0.2,"y":-3.18,"v":1},{"x":-0.64,"y":-3.22,"v":1},{"x":-0.12,"y":-3.22,"v":1},{"x":0.04,"y":-3.22,"v":1},{"x":0.08,"y":-3.22,"v":1},{"x":0.2,"y":-3.22,"v":1},{"x":0.04,"y":-3.3,"v":4},{"x":0.08,"y":-3.3,"v":4},{"x":0.12,"y":-3.3,"v":2},{"x":0.2,"y":-3.3,"v":1},{"x":-0.28,"y":-3.3,"v":1},{"x":-0.12,"y":-3.34,"v":1},{"x":0.4,"y":-3.34,"v":1},{"x":-0.04,"y":-3.38,"v":1},{"x":0.24,"y":-3.38,"v":2},{"x":0.36,"y":-3.38,"v":1},{"x":-0.48,"y":-3.42,"v":2},{"x":-0.4,"y":-3.42,"v":1},{"x":0.16,"y":-3.42,"v":1},{"x":0.44,"y":-3.42,"v":1},{"x":-0.16,"y":-3.46,"v":2},{"x":-0.08,"y":-3.46,"v":2},{"x":0.24,"y":-3.46,"v":2},{"x":0.04,"y":-3.5,"v":1}]
},
"hconcat":[
{"vconcat":[
{"width":382,"height":83,"layer":[
{"data":{"values":[{"x":252.7,"y":41.7,"x2":262.7,"y2":25},{"x":262.7,"y":25,"x2":281.7,"y2":25},{"x":281.7,"y":25,"x2":291.7,"y2":41.7},{"x":291.7,"y":41.7,"x2":281.7,"y2":60},{"x":281.7,"y":60,"x2":262.7,"y2":60},{"x":262.7,"y":60,"x2":252.7,"y2":41.7},{"x":257,"y":41,"x2":264,"y2":29},{"x":265,"y":29,"x2":279,"y2":29},{"x":265,"y":56,"x2":279,"y2":56},{"x":231.7,"y":41.7,"x2":252.7,"y2":41.7},{"x":291.7,"y":41.7,"x2":312.7,"y2":41.7},{"x":231.7,"y":41.7,"x2":219.3,"y2":26},{"x":219.3,"y":26,"x2":200,"y2":31.7},{"x":200,"y":31.7,"x2":200.7,"y2":52.7},{"x":200.7,"y":52.7,"x2":213,"y2":57},{"x":223,"y":56.7,"x2":231.7,"y2":41.7},{"x":228,"y":40.7,"x2":218.3,"y2":30},{"x":204,"y":35,"x2":204.7,"y2":50},{"x":188.3,"y":59.3,"x2":200.7,"y2":52.7},{"x":312.7,"y":41.7,"x2":323.3,"y2":59.3},{"x":323.3,"y":59.3,"x2":344,"y2":51.7},{"x":344,"y":51.7,"x2":344,"y2":31.7},{"x":344,"y":31.7,"x2":328,"y2":26},{"x":318,"y":26.7,"x2":312.7,"y2":41.7},{"x":317.3,"y":42.7,"x2":325.7,"y2":55},{"x":340,"y":49.3,"x2":340,"y2":35},{"x":344,"y":31.7,"x2":355,"y2":24},{"x":262.7,"y":60,"x2":256.7,"y2":73},{"x":265.5,"y":62,"x2":260,"y2":74},{"x":281.7,"y":60,"x2":286.7,"y2":73},{"x":279,"y":62,"x2":284,"y2":74},{"x":256.7,"y":83.3,"x2":266,"y2":87.3},{"x":285,"y":83.3,"x2":275,"y2":87.3}]},
"mark":{"type":"rule","color":"#333","strokeWidth":1.2},
"encoding":{"x":{"field":"x","type":"quantitative","scale":{"domain":[71,453],"nice":false,"zero":false},"axis":null},"x2":{"field":"x2"},"y":{"field":"y","type":"quantitative","scale":{"domain":[0,83],"reverse":true,"nice":false},"axis":null},"y2":{"field":"y2"}}},
{"data":{"values":[{"x":178.3,"y":63.3,"t":"HS"},{"x":219,"y":59.3,"t":"S"},{"x":364,"y":20,"t":"SH"},{"x":323.3,"y":25,"t":"S"},{"x":255,"y":79.3,"t":"N"},{"x":287.3,"y":79.3,"t":"N"},{"x":270.7,"y":90,"t":"S"}]},
"mark":{"type":"text","font":"Liberation Sans","fontSize":11.5,"color":"#333"},
"encoding":{"x":{"field":"x","type":"quantitative"},"y":{"field":"y","type":"quantitative"},"text":{"field":"t"}}},
{"data":{"values":[{"x":86.7,"y":68,"t":"(a)"}]},"mark":{"type":"text","font":"Open Sans","fontSize":24,"color":"#222"},
"encoding":{"x":{"field":"x","type":"quantitative"},"y":{"field":"y","type":"quantitative"},"text":{"field":"t"}}}
]},
{"width":382,"height":132,"view":{"fill":"#00008f","stroke":"#000","strokeWidth":2},"layer":[
{"data":{"name":"a1"},"mark":{"type":"rect","clip":true},"encoding":{"x":{"field":"x","type":"quantitative","bin":{"binned":true,"step":0.04},"scale":{"domain":[-1,1],"nice":false,"zero":false},"axis":{"values":[-1,-0.5,0,0.5,1],"labels":false,"title":null}},"y":{"field":"y","type":"quantitative","bin":{"binned":true,"step":0.04},"scale":{"domain":[-3,-1],"nice":false,"zero":false},"axis":{"values":[-3,-2.5,-2,-1.5,-1],"labelExpr":"datum.value+''","title":null}},"color":{"field":"v","type":"quantitative","scale":{"domain":[0,1.25,3.75,6.25,8.75,10],"range":["#00008f","#0000ff","#00ffff","#ffff00","#ff0000","#d80000"],"clamp":true},"legend":{"values":[0,5,10],"encode":{"labels":{"update":{"baseline":{"value":"middle"}}}}}}}},
{"data":{"name":"gx"},"mark":{"type":"rule","color":"#000","strokeWidth":1.2,"strokeDash":[2,2]},"encoding":{"x":{"field":"v","type":"quantitative"}}},
{"data":{"name":"gya"},"mark":{"type":"rule","color":"#000","strokeWidth":1.2,"strokeDash":[2,2]},"encoding":{"y":{"field":"v","type":"quantitative"}}},
{"data":{"name":"fa"},"mark":{"type":"rule","color":"#555","strokeWidth":1.5},"encoding":{"x":{"field":"x","type":"quantitative"},"x2":{"field":"x2"},"y":{"field":"y","type":"quantitative"}}},
{"data":{"values":[{"x":0.23,"y":-1.47,"t":"T"},{"x":0.445,"y":-1.47,"t":"= 26.8 ˚C"}]},"mark":{"type":"text","font":"Lato","fontWeight":"bold","fontSize":22.5,"color":"white","align":"left"},"encoding":{"x":{"field":"x","type":"quantitative"},"y":{"field":"y","type":"quantitative"},"text":{"field":"t"}}},
{"data":{"values":[{"x":0.285,"y":-1.61,"t":"sub"}]},"mark":{"type":"text","font":"Lato","fontWeight":"bold","fontSize":14,"color":"white","align":"left"},"encoding":{"x":{"field":"x","type":"quantitative"},"y":{"field":"y","type":"quantitative"},"text":{"field":"t"}}}
]},
{"width":382,"height":132,"view":{"fill":"#00008f","stroke":"#000","strokeWidth":2},"layer":[
{"data":{"name":"a2"},"mark":{"type":"rect","clip":true},"encoding":{"x":{"field":"x","type":"quantitative","bin":{"binned":true,"step":0.04},"scale":{"domain":[-1,1],"nice":false,"zero":false},"axis":{"values":[-1,-0.5,0,0.5,1],"labels":false,"title":null}},"y":{"field":"y","type":"quantitative","bin":{"binned":true,"step":0.04},"scale":{"domain":[-3,-1],"nice":false,"zero":false},"axis":{"values":[-3,-2.5,-2,-1.5,-1],"labelExpr":"datum.value+''","title":"Log₁₀ (G / G₀)","titlePadding":18}},"color":{"field":"v","type":"quantitative","scale":{"domain":[0,1.25,3.75,6.25,8.75,10],"range":["#00008f","#0000ff","#00ffff","#ffff00","#ff0000","#d80000"],"clamp":true},"legend":{"values":[0,5,10],"encode":{"labels":{"update":{"baseline":{"value":"middle"}}}}}}}},
{"data":{"name":"gx"},"mark":{"type":"rule","color":"#000","strokeWidth":1.2,"strokeDash":[2,2]},"encoding":{"x":{"field":"v","type":"quantitative"}}},
{"data":{"name":"gya"},"mark":{"type":"rule","color":"#000","strokeWidth":1.2,"strokeDash":[2,2]},"encoding":{"y":{"field":"v","type":"quantitative"}}},
{"data":{"values":[{"x":0.23,"y":-1.39,"t":"T"},{"x":0.445,"y":-1.39,"t":"= 45.0 ˚C"}]},"mark":{"type":"text","font":"Lato","fontWeight":"bold","fontSize":22.5,"color":"white","align":"left"},"encoding":{"x":{"field":"x","type":"quantitative"},"y":{"field":"y","type":"quantitative"},"text":{"field":"t"}}},
{"data":{"values":[{"x":0.285,"y":-1.53,"t":"sub"}]},"mark":{"type":"text","font":"Lato","fontWeight":"bold","fontSize":14,"color":"white","align":"left"},"encoding":{"x":{"field":"x","type":"quantitative"},"y":{"field":"y","type":"quantitative"},"text":{"field":"t"}}}
]},
{"width":382,"height":132,"view":{"fill":"#00008f","stroke":"#000","strokeWidth":2},"layer":[
{"data":{"name":"a3"},"mark":{"type":"rect","clip":true},"encoding":{"x":{"field":"x","type":"quantitative","bin":{"binned":true,"step":0.04},"scale":{"domain":[-1,1],"nice":false,"zero":false},"axis":{"values":[-1,-0.5,0,0.5,1],"labelExpr":"datum.value+''","labelPadding":6,"title":"U\u00a0\u00a0\u00a0\u00a0\u00a0\u00a0\u00a0\u00a0(mV)","titlePadding":5}},"y":{"field":"y","type":"quantitative","bin":{"binned":true,"step":0.04},"scale":{"domain":[-3,-1],"nice":false,"zero":false},"axis":{"values":[-3,-2.5,-2,-1.5,-1],"labelExpr":"datum.value+''","title":null}},"color":{"field":"v","type":"quantitative","scale":{"domain":[0,1.25,3.75,6.25,8.75,10],"range":["#00008f","#0000ff","#00ffff","#ffff00","#ff0000","#d80000"],"clamp":true},"legend":{"values":[0,5,10],"encode":{"labels":{"update":{"baseline":{"value":"middle"}}}}}}}},
{"data":{"name":"gx"},"mark":{"type":"rule","color":"#000","strokeWidth":1.2,"strokeDash":[2,2]},"encoding":{"x":{"field":"v","type":"quantitative"}}},
{"data":{"name":"gya"},"mark":{"type":"rule","color":"#000","strokeWidth":1.2,"strokeDash":[2,2]},"encoding":{"y":{"field":"v","type":"quantitative"}}},
{"data":{"values":[{"x":0.23,"y":-1.39,"t":"T"},{"x":0.445,"y":-1.39,"t":"= 65.7 ˚C"}]},"mark":{"type":"text","font":"Lato","fontWeight":"bold","fontSize":22.5,"color":"white","align":"left"},"encoding":{"x":{"field":"x","type":"quantitative"},"y":{"field":"y","type":"quantitative"},"text":{"field":"t"}}},
{"data":{"values":[{"x":0.285,"y":-1.53,"t":"sub"}]},"mark":{"type":"text","font":"Lato","fontWeight":"bold","fontSize":14,"color":"white","align":"left"},"encoding":{"x":{"field":"x","type":"quantitative"},"y":{"field":"y","type":"quantitative"},"text":{"field":"t"}}},
{"data":{"values":[{"x":-0.15,"y":-3.6,"t":"TE,m"}]},"mark":{"type":"text","font":"Liberation Sans","fontWeight":"bold","fontSize":10,"color":"#111","align":"left"},"encoding":{"x":{"field":"x","type":"quantitative"},"y":{"field":"y","type":"quantitative"},"text":{"field":"t"}}}
]}
],"spacing":22,"bounds":"flush","resolve":{"scale":{"color":"independent"}}},
{"vconcat":[
{"width":386,"height":83,"layer":[
{"data":{"values":[{"x":806,"y":71.7,"x2":822.7,"y2":80},{"x":822.7,"y":80,"x2":848.3,"y2":66},{"x":848.3,"y":66,"x2":874,"y2":80},{"x":874,"y":80,"x2":899.3,"y2":66},{"x":899.3,"y":66,"x2":916.7,"y2":75},{"x":686,"y":9,"x2":690,"y2":9}]},
"mark":{"type":"rule","color":"#333","strokeWidth":1.4},
"encoding":{"x":{"field":"x","type":"quantitative","scale":{"domain":[657,1043],"nice":false,"zero":false},"axis":null},"x2":{"field":"x2"},"y":{"field":"y","type":"quantitative","scale":{"domain":[0,83],"reverse":true,"nice":false},"axis":null},"y2":{"field":"y2"}}},
{"data":{"values":[{"x":789.3,"y":66,"t":"HS"},{"x":931.7,"y":80.7,"t":"SH"}]},
"mark":{"type":"text","font":"Liberation Sans","fontSize":18,"color":"#333"},
"encoding":{"x":{"field":"x","type":"quantitative"},"y":{"field":"y","type":"quantitative"},"text":{"field":"t"}}},
{"data":{"values":[{"x":675,"y":68,"t":"(b)"}]},"mark":{"type":"text","font":"Open Sans","fontSize":24,"color":"#222"},
"encoding":{"x":{"field":"x","type":"quantitative"},"y":{"field":"y","type":"quantitative"},"text":{"field":"t"}}}
]},
{"width":386,"height":132,"view":{"fill":"#00008f","stroke":"#000","strokeWidth":2},"layer":[
{"data":{"name":"b1"},"mark":{"type":"rect","clip":true},"encoding":{"x":{"field":"x","type":"quantitative","bin":{"binned":true,"step":0.04},"scale":{"domain":[-1,1],"nice":false,"zero":false},"axis":{"values":[-1,-0.5,0,0.5,1],"labels":false,"title":null}},"y":{"field":"y","type":"quantitative","bin":{"binned":true,"step":0.04},"scale":{"domain":[-3.5,-1.5],"nice":false,"zero":false},"axis":{"values":[-3.5,-3,-2.5,-2,-1.5],"labelExpr":"datum.value+''","title":null}},"color":{"field":"v","type":"quantitative","scale":{"domain":[0,1.875,5.625,9.375,13.125,15],"range":["#00008f","#0000ff","#00ffff","#ffff00","#ff0000","#c00000"],"clamp":true},"legend":{"values":[0,5,10,15],"encode":{"labels":{"update":{"baseline":{"value":"middle"}}}}}}}},
{"data":{"name":"gx"},"mark":{"type":"rule","color":"#000","strokeWidth":1.2,"strokeDash":[2,2]},"encoding":{"x":{"field":"v","type":"quantitative"}}},
{"data":{"name":"gyb"},"mark":{"type":"rule","color":"#000","strokeWidth":1.2,"strokeDash":[2,2]},"encoding":{"y":{"field":"v","type":"quantitative"}}},
{"data":{"name":"fb"},"mark":{"type":"rule","color":"#555","strokeWidth":1.5},"encoding":{"x":{"field":"x","type":"quantitative"},"x2":{"field":"x2"},"y":{"field":"y","type":"quantitative"}}},
{"data":{"values":[{"x":0.19,"y":-1.97,"t":"T"},{"x":0.415,"y":-1.97,"t":"= 25.9 ˚C"}]},"mark":{"type":"text","font":"Lato","fontWeight":"bold","fontSize":22.5,"color":"white","align":"left"},"encoding":{"x":{"field":"x","type":"quantitative"},"y":{"field":"y","type":"quantitative"},"text":{"field":"t"}}},
{"data":{"values":[{"x":0.25,"y":-2.1,"t":"sub"}]},"mark":{"type":"text","font":"Lato","fontWeight":"bold","fontSize":14,"color":"white","align":"left"},"encoding":{"x":{"field":"x","type":"quantitative"},"y":{"field":"y","type":"quantitative"},"text":{"field":"t"}}}
]},
{"width":386,"height":132,"view":{"fill":"#00008f","stroke":"#000","strokeWidth":2},"layer":[
{"data":{"name":"b2"},"mark":{"type":"rect","clip":true},"encoding":{"x":{"field":"x","type":"quantitative","bin":{"binned":true,"step":0.04},"scale":{"domain":[-1,1],"nice":false,"zero":false},"axis":{"values":[-1,-0.5,0,0.5,1],"labels":false,"title":null}},"y":{"field":"y","type":"quantitative","bin":{"binned":true,"step":0.04},"scale":{"domain":[-3.5,-1.5],"nice":false,"zero":false},"axis":{"values":[-3.5,-3,-2.5,-2,-1.5],"labelExpr":"datum.value+''","title":"Log₁₀ (G / G₀)","titlePadding":18}},"color":{"field":"v","type":"quantitative","scale":{"domain":[0,1.875,5.625,9.375,13.125,15],"range":["#00008f","#0000ff","#00ffff","#ffff00","#ff0000","#c00000"],"clamp":true},"legend":{"values":[0,5,10,15],"encode":{"labels":{"update":{"baseline":{"value":"middle"}}}}}}}},
{"data":{"name":"gx"},"mark":{"type":"rule","color":"#000","strokeWidth":1.2,"strokeDash":[2,2]},"encoding":{"x":{"field":"v","type":"quantitative"}}},
{"data":{"name":"gyb"},"mark":{"type":"rule","color":"#000","strokeWidth":1.2,"strokeDash":[2,2]},"encoding":{"y":{"field":"v","type":"quantitative"}}},
{"data":{"name":"fb"},"mark":{"type":"rule","color":"#555","strokeWidth":1.5},"encoding":{"x":{"field":"x","type":"quantitative"},"x2":{"field":"x2"},"y":{"field":"y","type":"quantitative"}}},
{"data":{"values":[{"x":0.19,"y":-1.89,"t":"T"},{"x":0.415,"y":-1.89,"t":"= 41.8 ˚C"}]},"mark":{"type":"text","font":"Lato","fontWeight":"bold","fontSize":22.5,"color":"white","align":"left"},"encoding":{"x":{"field":"x","type":"quantitative"},"y":{"field":"y","type":"quantitative"},"text":{"field":"t"}}},
{"data":{"values":[{"x":0.25,"y":-2.03,"t":"sub"}]},"mark":{"type":"text","font":"Lato","fontWeight":"bold","fontSize":14,"color":"white","align":"left"},"encoding":{"x":{"field":"x","type":"quantitative"},"y":{"field":"y","type":"quantitative"},"text":{"field":"t"}}}
]},
{"width":386,"height":132,"view":{"fill":"#00008f","stroke":"#000","strokeWidth":2},"layer":[
{"data":{"name":"b3"},"mark":{"type":"rect","clip":true},"encoding":{"x":{"field":"x","type":"quantitative","bin":{"binned":true,"step":0.04},"scale":{"domain":[-1,1],"nice":false,"zero":false},"axis":{"values":[-1,-0.5,0,0.5,1],"labelExpr":"datum.value+''","labelPadding":6,"title":"U\u00a0\u00a0\u00a0\u00a0\u00a0\u00a0\u00a0\u00a0(mV)","titlePadding":5}},"y":{"field":"y","type":"quantitative","bin":{"binned":true,"step":0.04},"scale":{"domain":[-3.5,-1.5],"nice":false,"zero":false},"axis":{"values":[-3.5,-3,-2.5,-2,-1.5],"labelExpr":"datum.value+''","title":null}},"color":{"field":"v","type":"quantitative","scale":{"domain":[0,1.875,5.625,9.375,13.125,15],"range":["#00008f","#0000ff","#00ffff","#ffff00","#ff0000","#c00000"],"clamp":true},"legend":{"values":[0,5,10,15],"encode":{"labels":{"update":{"baseline":{"value":"middle"}}}}}}}},
{"data":{"name":"gx"},"mark":{"type":"rule","color":"#000","strokeWidth":1.2,"strokeDash":[2,2]},"encoding":{"x":{"field":"v","type":"quantitative"}}},
{"data":{"name":"gyb"},"mark":{"type":"rule","color":"#000","strokeWidth":1.2,"strokeDash":[2,2]},"encoding":{"y":{"field":"v","type":"quantitative"}}},
{"data":{"values":[{"x":0.19,"y":-1.89,"t":"T"},{"x":0.415,"y":-1.89,"t":"= 62.2 ˚C"}]},"mark":{"type":"text","font":"Lato","fontWeight":"bold","fontSize":22.5,"color":"white","align":"left"},"encoding":{"x":{"field":"x","type":"quantitative"},"y":{"field":"y","type":"quantitative"},"text":{"field":"t"}}},
{"data":{"values":[{"x":0.25,"y":-2.03,"t":"sub"}]},"mark":{"type":"text","font":"Lato","fontWeight":"bold","fontSize":14,"color":"white","align":"left"},"encoding":{"x":{"field":"x","type":"quantitative"},"y":{"field":"y","type":"quantitative"},"text":{"field":"t"}}},
{"data":{"values":[{"x":-0.15,"y":-4.1,"t":"TE,m"}]},"mark":{"type":"text","font":"Liberation Sans","fontWeight":"bold","fontSize":10,"color":"#111","align":"left"},"encoding":{"x":{"field":"x","type":"quantitative"},"y":{"field":"y","type":"quantitative"},"text":{"field":"t"}}}
]}
],"spacing":22,"bounds":"flush","resolve":{"scale":{"color":"independent"}}}
]}
